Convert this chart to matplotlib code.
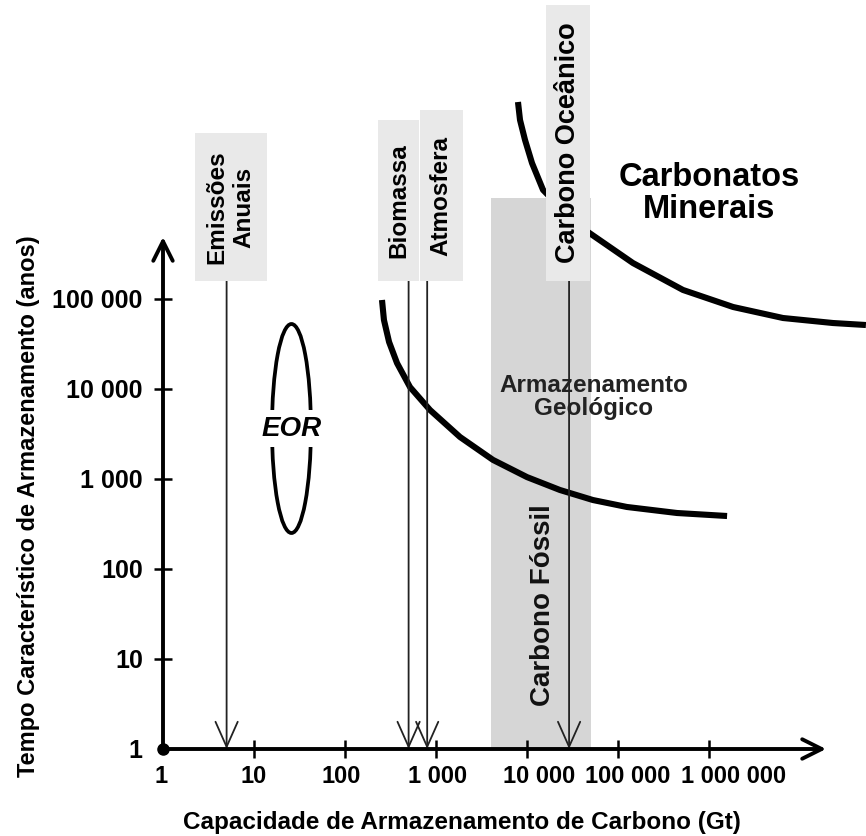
import matplotlib
matplotlib.use("Agg")
import matplotlib.pyplot as plt
from matplotlib.patches import Rectangle, Ellipse
from matplotlib.ticker import NullLocator
from matplotlib.transforms import ScaledTranslation

plt.rcParams["font.family"] = "Liberation Sans"
plt.rcParams["font.weight"] = "bold"
plt.rcParams["axes.labelweight"] = "bold"

# carbon reservoirs marked with an arrow (Gt C)
reservoir_names = ["Emissões\nAnuais", "Biomassa", "Atmosfera", "Carbono Oceânico"]
reservoir_sizes = [5, 500, 800, 29000]

# geological storage curve: capacity (Gt) vs characteristic time (years)
geo_capacity = [255, 268, 305, 373, 518, 860, 1835, 4230, 10000, 23000, 53000,
                125000, 445000, 1580000]
geo_time = [97500, 58400, 33300, 19400, 10500, 5840, 2930, 1630, 1050, 755, 584,
            489, 419, 388]

# mineral carbonation curve
mineral_capacity = [7960, 8380, 9510, 11350, 15000, 23000, 33700, 46800, 146000,
                    518000, 1840000, 6500000, 23000000, 53000000]
mineral_time = [15450000, 9750000, 5850000, 3240000, 1630000, 1050000, 755000,
                555000, 251000, 126000, 81500, 61500, 54100, 51400]

# fossil carbon band
fossil_low = 4000
fossil_high = 50000
fossil_time_top = 1.32e6

# EOR region
eor_capacity = 25.8
eor_time = 3640

x_ticks = [1, 10, 100, 1e3, 1e4, 1e5, 1e6]
x_tick_labels = ["1", "10", "100", "1 000", "10 000", "100 000", "1 000 000"]
y_ticks = [1, 10, 100, 1e3, 1e4, 1e5]
y_tick_labels = ["1", "10", "100", "1 000", "10 000", "100 000"]

fig = plt.figure(figsize=(8.66, 8.36), dpi=100)
fig.patch.set_facecolor("white")
ax = fig.add_axes([163 / 866, 87 / 836, 663 / 866, 512 / 836])
ax.set_xscale("log")
ax.set_yscale("log")
for s in ax.spines.values():
    s.set_visible(False)
ax.set_facecolor("none")

PX = 1 / 100  # one pixel in inches


def anchored(x, y):
    # pixel offsets from a data point
    return fig.dpi_scale_trans + ScaledTranslation(x, y, ax.transData)


# fossil carbon band
bars = ax.bar(fossil_low, fossil_time_top, width=fossil_high - fossil_low, bottom=1,
              align="edge", color="#d6d6d6", zorder=1)
for b in bars:
    b.set_clip_on(False)
ax.text(15000, 40, "Carbono Fóssil", rotation=90, ha="center", va="center",
        fontsize=20, color="#111111", zorder=4)

# curves
ax.plot(geo_capacity, geo_time, color="black", lw=4.4, solid_capstyle="butt",
        solid_joinstyle="round", clip_on=False, zorder=3)
ax.plot(mineral_capacity, mineral_time, color="black", lw=4.4, solid_capstyle="butt",
        solid_joinstyle="round", clip_on=False, zorder=3)

ax.text(54500, 8150, "Armazenamento\nGeológico", ha="center", va="center",
        fontsize=17.5, linespacing=0.95, color="#222222", zorder=4)
ax.text(1e6, 1.5e6, "Carbonatos\nMinerais", ha="center", va="center",
        fontsize=23.5, linespacing=1.05, color="black", zorder=4)

# reservoir boxes and arrows
box_dx = [4, -10, 14, -1]
box_w = [72, 41, 43, 44]
box_h = [148, 161, 171, 276]
box_font = [17.5, 17.5, 17.5, 19.5]
box_bottom = 468
for name, size, dx, w, h, fs in zip(reservoir_names, reservoir_sizes, box_dx,
                                    box_w, box_h, box_font):
    tr = anchored(size, 1)
    rect = Rectangle(((dx - w / 2) * PX, box_bottom * PX), w * PX, h * PX,
                     transform=tr, facecolor="#e9e9e9", edgecolor="none",
                     clip_on=False, zorder=5)
    ax.add_patch(rect)
    ax.text(dx * PX, (box_bottom + h / 2) * PX, name, transform=tr, rotation=90,
            ha="center", va="center", fontsize=fs, linespacing=1.2, zorder=6)
    ax.annotate("", xy=(size, 1), xytext=(0, box_bottom), textcoords="offset pixels",
                arrowprops=dict(arrowstyle="->,head_length=0.9,head_width=0.4",
                                lw=1.3, color="#222222", shrinkA=0, shrinkB=0,
                                mutation_scale=20),
                zorder=4)

# EOR ellipse
ax.add_patch(Ellipse((0, 0), 39 * PX, 209 * PX, transform=anchored(eor_capacity, eor_time),
                     fill=False, edgecolor="black", lw=2.7, clip_on=False, zorder=3))
ax.text(eor_capacity, eor_time, "EOR", ha="center", va="center", fontsize=20,
        style="italic", zorder=4,
        bbox=dict(boxstyle="square,pad=0.2", facecolor="white", edgecolor="none"))

# axes with arrows
arrow_kw = dict(arrowstyle="->,head_length=0.7,head_width=0.35", lw=2.8,
                color="black", shrinkA=0, shrinkB=0, mutation_scale=20)
ax.annotate("", xy=(1, 0), xytext=(0, 0), xycoords="axes fraction",
            arrowprops=arrow_kw, zorder=7, annotation_clip=False)
ax.annotate("", xy=(0, 1), xytext=(0, 0), xycoords="axes fraction",
            arrowprops=arrow_kw, zorder=7, annotation_clip=False)
ax.plot([1], [1], "o", color="black", ms=8, clip_on=False, zorder=8)

ax.set_xlim(1, 10 ** (663 / 91))
ax.set_ylim(1, 10 ** (512 / 90))

ax.set_xticks(x_ticks, x_tick_labels)
ax.set_yticks(y_ticks, y_tick_labels)
ax.xaxis.set_minor_locator(NullLocator())
ax.yaxis.set_minor_locator(NullLocator())
ax.tick_params(axis="both", direction="inout", length=13, width=1.8, color="black")
ax.tick_params(axis="x", labelsize=17, pad=5)
ax.tick_params(axis="y", labelsize=18, pad=8)
ax.xaxis.get_major_ticks()[0].tick1line.set_visible(False)
ax.yaxis.get_major_ticks()[0].tick1line.set_visible(False)

# long x labels sit a little right of their ticks
label_shift = [-2, 0, -4, 2, 12, 10, 25]
for tick, dx in zip(ax.xaxis.get_major_ticks(), label_shift):
    tick.label1.set_transform(tick.label1.get_transform()
                              + ScaledTranslation(dx * PX, 0, fig.dpi_scale_trans))

ax.set_xlabel("Capacidade de Armazenamento de Carbono (Gt)", fontsize=17.5, va="center")
ax.xaxis.set_label_coords((462 - 163) / 663, (749 - 823) / 512)
ax.set_ylabel("Tempo Característico de Armazenamento (anos)", fontsize=17, va="center")
ax.yaxis.set_label_coords((29 - 163) / 663, (749 - 506) / 512)

fig.savefig("out.png", dpi=100, facecolor="white")
